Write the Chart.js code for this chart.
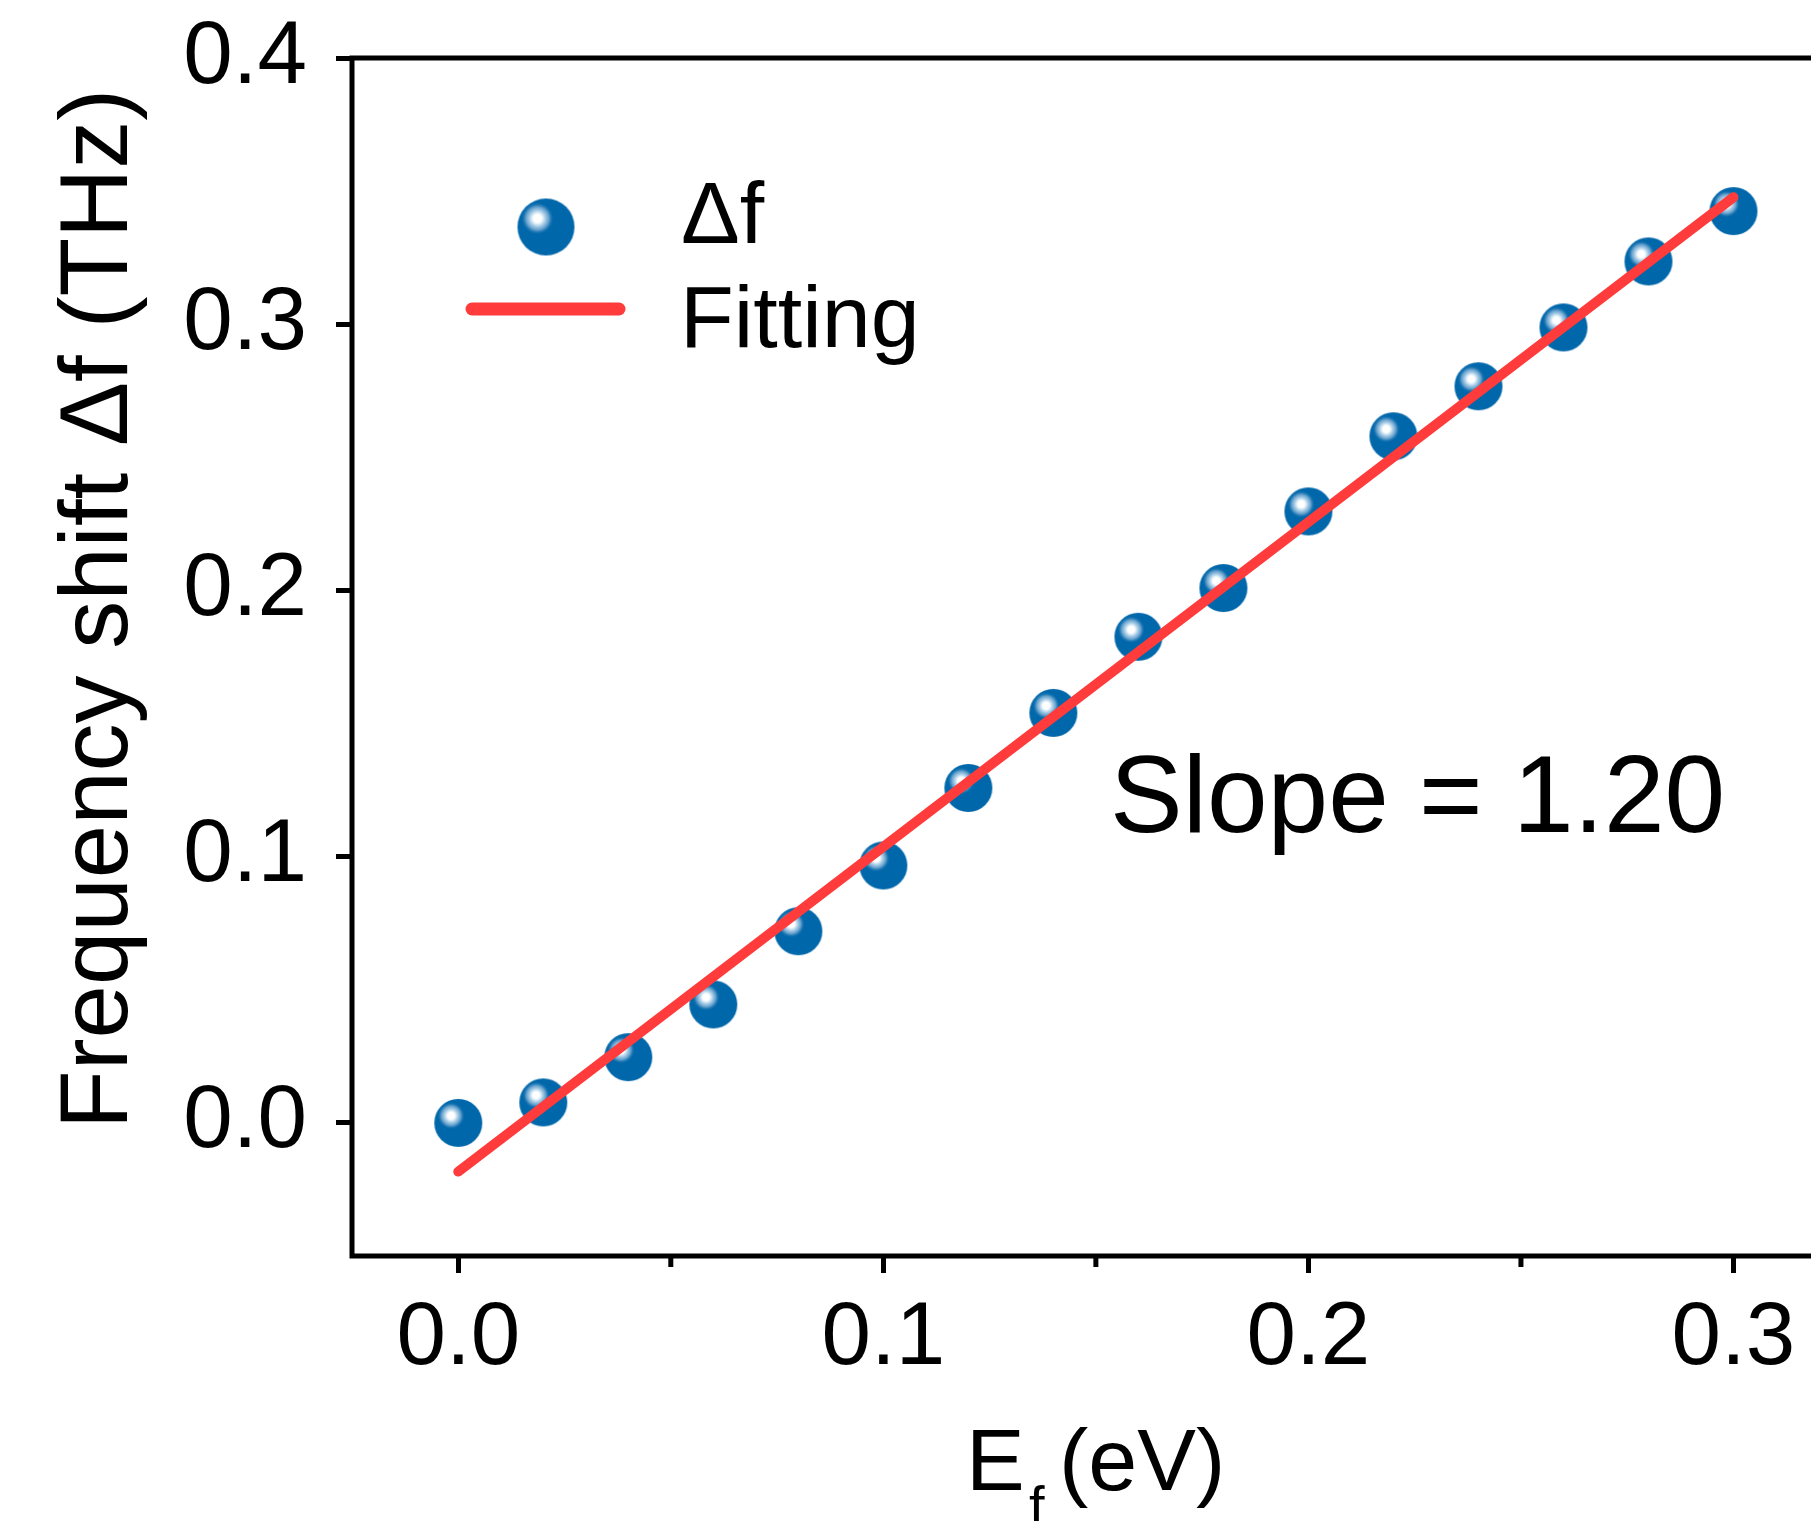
<!DOCTYPE html>
<html><head><meta charset="utf-8">
<script src="https://cdn.jsdelivr.net/npm/chart.js@4.4.1/dist/chart.umd.min.js"></script>
<style>html,body{margin:0;padding:0;background:#fff;overflow:hidden;width:1811px;height:1521px}canvas{display:block}</style>
</head><body>
<canvas id="c" width="1860" height="1521"></canvas>
<script>
// ---- data ----
const efValues = [0.00,0.02,0.04,0.06,0.08,0.10,0.12,0.14,0.16,0.18,0.20,0.22,0.24,0.26,0.28,0.30];
const dfValues = [0.000,0.0077,0.0247,0.0445,0.0720,0.0967,0.1258,0.1540,0.1826,0.2009,0.2297,0.2579,0.2767,0.2988,0.3236,0.3425];
const fitX = [0.00, 0.30];
const fitY = [-0.0183, 0.3477];
const xTicks = [0.0, 0.1, 0.2, 0.3];
const xMinorTicks = [0.05, 0.15, 0.25];
const yTicks = [0.0, 0.1, 0.2, 0.3, 0.4];
const seriesLabels = ['Δf', 'Fitting'];
const yTitle = 'Frequency shift Δf (THz)';
const xTitleMain = 'E', xTitleSub = 'f', xTitleUnit = '(eV)';
const slopeText = 'Slope = 1.20';

const FONT = '"Liberation Sans", Arial, Helvetica, sans-serif';
const BLUE = '#0067aa';
const RED = '#ff3b3b';

function makeSphere(r){
  const s = Math.ceil(2*r + 2);
  const c = document.createElement('canvas'); c.width = s; c.height = s;
  const g = c.getContext('2d');
  const cx = s/2, cy = s/2;
  g.beginPath(); g.arc(cx, cy, r, 0, Math.PI*2); g.fillStyle = BLUE; g.fill();
  const hx = cx - r*0.3, hy = cy - r*0.3, hr = r*0.58;
  const grad = g.createRadialGradient(hx, hy, 0, hx, hy, hr);
  grad.addColorStop(0, 'rgba(255,255,255,1)');
  grad.addColorStop(0.25, 'rgba(255,255,255,1)');
  grad.addColorStop(0.42, 'rgba(190,219,238,1)');
  grad.addColorStop(0.7, 'rgba(110,165,208,0.9)');
  grad.addColorStop(1, 'rgba(0,103,170,0)');
  g.save(); g.beginPath(); g.arc(cx, cy, r, 0, Math.PI*2); g.clip();
  g.fillStyle = grad; g.fillRect(0, 0, s, s); g.restore();
  return c;
}
const sphere = makeSphere(24);
const sphereLegend = makeSphere(28.5);

const framePlugin = {
  id: 'frame',
  beforeDatasetsDraw(chart){
    const {ctx, chartArea: a} = chart;
    const xs = chart.scales.x;
    ctx.save();
    ctx.strokeStyle = '#000'; ctx.lineWidth = 5;
    ctx.strokeRect(a.left, a.top, a.right - a.left, a.bottom - a.top);
    ctx.beginPath();
    xMinorTicks.forEach(v => {
      const px = xs.getPixelForValue(v);
      ctx.moveTo(px, a.bottom); ctx.lineTo(px, a.bottom + 11);
    });
    ctx.stroke();
    ctx.restore();
  },
  afterDraw(chart){
    const {ctx} = chart;
    ctx.save();
    ctx.fillStyle = '#000';
    // legend
    ctx.drawImage(sphereLegend, 546 - sphereLegend.width/2, 227 - sphereLegend.height/2);
    ctx.strokeStyle = RED; ctx.lineWidth = 13; ctx.lineCap = 'round';
    ctx.beginPath(); ctx.moveTo(472, 309); ctx.lineTo(619, 309); ctx.stroke();
    ctx.font = '88px ' + FONT; ctx.textAlign = 'left'; ctx.textBaseline = 'alphabetic';
    ctx.fillText(seriesLabels[0], 681, 243);
    ctx.fillText(seriesLabels[1], 680, 347);
    // slope annotation
    ctx.font = '109px ' + FONT;
    ctx.fillText(slopeText, 1110, 832);
    // x title
    ctx.font = '88px ' + FONT;
    ctx.fillText(xTitleMain, 966, 1490);
    ctx.font = '56px ' + FONT;
    ctx.fillText(xTitleSub, 1029, 1525);
    ctx.font = '88px ' + FONT;
    ctx.fillText(xTitleUnit, 1059, 1490);
    // y title
    ctx.save();
    ctx.translate(127, 1129); ctx.rotate(-Math.PI/2);
    ctx.font = '96px ' + FONT;
    ctx.fillText(yTitle, 0, 0);
    ctx.restore();
    ctx.restore();
  }
};

new Chart(document.getElementById('c'), {
  type: 'scatter',
  data: {
    datasets: [
      {
        label: seriesLabels[1],
        data: fitX.map((x, i) => ({x, y: fitY[i]})),
        showLine: true, borderColor: RED, borderWidth: 10, borderCapStyle: 'round',
        pointRadius: 0, fill: false, order: 0
      },
      {
        label: seriesLabels[0],
        data: efValues.map((x, i) => ({x, y: dfValues[i]})),
        showLine: false, pointStyle: sphere, pointRadius: 24, order: 1
      }
    ]
  },
  options: {
    responsive: false, animation: false, devicePixelRatio: 1,
    layout: {padding: {left: 0, top: 58, right: 33, bottom: 0}},
    plugins: {legend: {display: false}, tooltip: {enabled: false}},
    scales: {
      x: {
        type: 'linear', min: -0.025, max: 0.322,
        afterBuildTicks: s => { s.ticks = xTicks.map(v => ({value: v})); },
        afterFit: s => { s.height = 265; },
        border: {display: false},
        grid: {drawOnChartArea: false, drawTicks: true, tickLength: 17, tickWidth: 5, tickColor: '#000'},
        ticks: {padding: 22, color: '#000', font: {family: FONT, size: 89, lineHeight: 1},
                maxRotation: 0, autoSkip: false, callback: v => Number(v).toFixed(1)}
      },
      y: {
        type: 'linear', min: -0.05, max: 0.4,
        afterBuildTicks: s => { s.ticks = yTicks.map(v => ({value: v})); },
        afterFit: s => { s.width = 352; },
        border: {display: false},
        grid: {drawOnChartArea: false, drawTicks: true, tickLength: 16, tickWidth: 5, tickColor: '#000'},
        ticks: {padding: 29, color: '#000', font: {family: FONT, size: 89, lineHeight: 0.4},
                autoSkip: false, callback: v => Number(v).toFixed(1)}
      }
    }
  },
  plugins: [framePlugin]
});
</script>
</body></html>
